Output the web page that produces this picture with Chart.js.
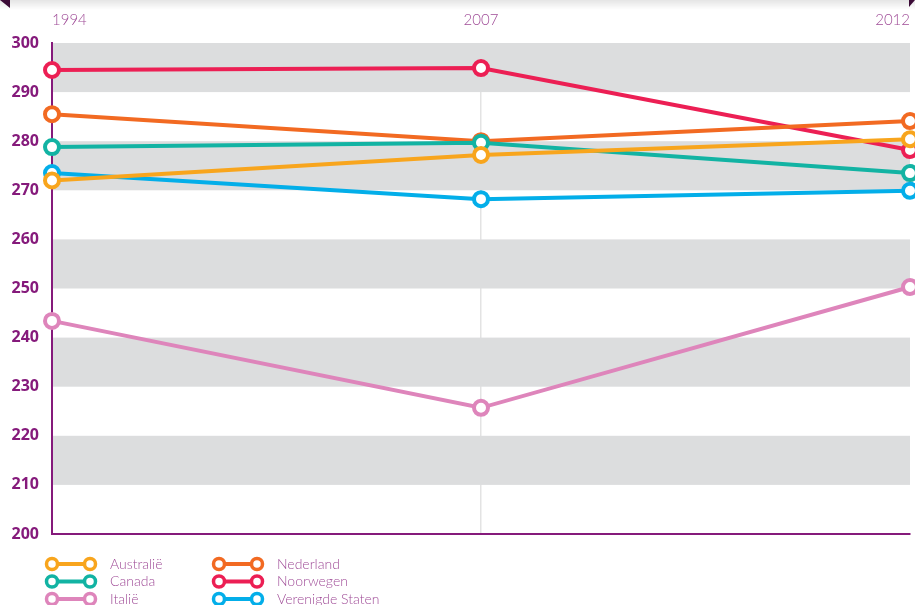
<!DOCTYPE html>
<html>
<head>
<meta charset="utf-8">
<title>Scores 1994 - 2012</title>
<script src="https://cdn.jsdelivr.net/npm/chart.js@4"></script>
<style>
  html, body { margin: 0; padding: 0; background: #ffffff; }
  #chart { display: block; }
</style>
</head>
<body>
<canvas id="chart" width="915" height="605"></canvas>
<script>
'use strict';

// ***** DATA *****
const years = ['1994', '2007', '2012'];
const countries = ['Australië', 'Canada', 'Italië', 'Nederland', 'Noorwegen', 'Verenigde Staten'];
const australie = [272.0, 277.2, 280.4];
const canada = [278.8, 279.7, 273.5];
const italie = [243.4, 225.7, 250.3];
const nederland = [285.5, 280.0, 284.1];
const noorwegen = [294.5, 294.9, 278.2];
const verenigdeStaten = [273.5, 268.2, 269.9];
const bands = [[290, 300], [270, 280], [250, 260], [230, 240], [210, 220]];

// ***** STYLE *****
const colors = ['#f8a51d', '#12b3a3', '#de85bb', '#f26a22', '#ec1f54', '#03aee9'];
const purple = '#851a7b';
const labelPurple = '#a04d98';

// **** HELPERS ****
function makeDataset(i, values){
  return {
    label: countries[i],
    data: values,
    borderColor: colors[i],
    backgroundColor: '#ffffff',
    borderWidth: 4,
    pointRadius: 7,
    pointBorderWidth: 4,
    pointBackgroundColor: '#ffffff',
    pointBorderColor: colors[i],
    tension: 0,
    clip: false
  };
}

// no extra room for the outer year labels
function noSidePadding(scale){
  scale.paddingLeft = 0;
  scale.paddingRight = 0;
}

// gray bands behind the lines
const bandPlugin = {
  id: 'bands',
  beforeDatasetsDraw(chart){
    const ctx = chart.ctx;
    const y = chart.scales.y;
    const area = chart.chartArea;
    ctx.save();
    ctx.fillStyle = '#dcddde';
    for (let i = 0; i < bands.length; i++) {
      const top = y.getPixelForValue(bands[i][1]);
      const bottom = y.getPixelForValue(bands[i][0]);
      ctx.fillRect(area.left + 1, top, area.right - area.left - 1, bottom - top);
    }
    ctx.restore();
  }
};

// legend, top shadow and corner marks
const extrasPlugin = {
  id: 'extras',
  afterDraw(chart){
    const ctx = chart.ctx;
    ctx.save();

    const grad = ctx.createLinearGradient(0, 0, 0, 10);
    grad.addColorStop(0, 'rgba(0,0,0,0.10)');
    grad.addColorStop(1, 'rgba(0,0,0,0)');
    ctx.fillStyle = grad;
    ctx.fillRect(0, 0, 915, 10);

    ctx.fillStyle = '#3b0a36';
    ctx.beginPath();
    ctx.moveTo(0, 0); ctx.lineTo(10, 0); ctx.lineTo(10, 8); ctx.closePath();
    ctx.fill();
    ctx.beginPath();
    ctx.moveTo(909, 0); ctx.lineTo(915, 0); ctx.lineTo(909, 7); ctx.closePath();
    ctx.fill();

    ctx.font = '300 14px Lato, "Open Sans", sans-serif';
    ctx.textBaseline = 'middle';
    for (let i = 0; i < countries.length; i++) {
      const col = Math.floor(i / 3);
      const row = i % 3;
      const x0 = col === 0 ? 52 : 219;
      const x1 = x0 + 38;
      const yy = 564 + row * 17.5;
      ctx.strokeStyle = colors[i];
      ctx.lineWidth = 4;
      ctx.beginPath();
      ctx.moveTo(x0, yy); ctx.lineTo(x1, yy);
      ctx.stroke();
      ctx.lineWidth = 3.5;
      ctx.fillStyle = '#ffffff';
      [x0, x1].forEach(function(cx){
        ctx.beginPath();
        ctx.arc(cx, yy, 5.5, 0, Math.PI * 2);
        ctx.fill();
        ctx.stroke();
      });
      ctx.fillStyle = labelPurple;
      ctx.fillText(countries[i], x0 + 58, yy);
    }
    ctx.restore();
  }
};

// **** CHART ****
const chartCanvas = document.getElementById('chart');

new Chart(chartCanvas, {
  type: 'line',
  data: {
    labels: years,
    datasets: [
      makeDataset(0, australie),
      makeDataset(1, canada),
      makeDataset(2, italie),
      makeDataset(3, nederland),
      makeDataset(4, noorwegen),
      makeDataset(5, verenigdeStaten)
    ]
  },
  options: {
    responsive: false,
    animation: false,
    devicePixelRatio: 1,
    layout: { autoPadding: false, padding: { left: 0, right: 5, top: 0, bottom: 0 } },
    plugins: {
      legend: { display: false },
      tooltip: { enabled: false }
    },
    scales: {
      x: {
        position: 'top',
        offset: false,
        grid: { display: false, drawTicks: false },
        border: { display: false },
        ticks: {
          align: 'inner',
          padding: 14,
          maxRotation: 0,
          color: labelPurple,
          font: { family: 'Lato, "Open Sans", sans-serif', size: 15, weight: '300' }
        },
        afterFit(scale){
          scale.height = 43;
          noSidePadding(scale);
        }
      },
      x2: {
        position: 'bottom',
        type: 'category',
        labels: years,
        offset: false,
        grid: {
          drawTicks: false,
          lineWidth: 1.5,
          color: function(c){ return c.index === 1 ? '#e3e3e3' : 'rgba(0,0,0,0)'; }
        },
        border: { display: true, color: purple, width: 2 },
        ticks: { display: false },
        afterFit(scale){
          scale.height = 71;
          noSidePadding(scale);
        }
      },
      y: {
        min: 200,
        max: 300,
        grid: { display: false, drawTicks: false },
        border: { display: true, color: purple, width: 2 },
        ticks: {
          stepSize: 10,
          padding: 13,
          color: purple,
          font: { family: '"Open Sans", Lato, sans-serif', size: 16, weight: 'bold' }
        },
        afterFit(scale){ scale.width = 52; }
      }
    }
  },
  plugins: [bandPlugin, extrasPlugin]
});
</script>
</body>
</html>
